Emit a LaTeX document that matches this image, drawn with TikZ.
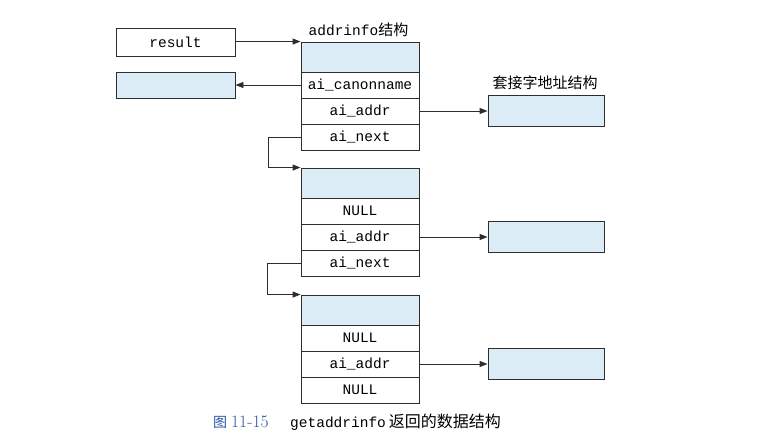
\documentclass[tikz,border=0pt]{standalone}
\usepackage{fontspec}
\setmonofont{Liberation Mono}
\newfontfamily\cjk{Noto Sans CJK SC}
\usetikzlibrary{arrows.meta}
\definecolor{cellblue}{RGB}{220,236,247}
\definecolor{linegray}{RGB}{45,45,45}
\definecolor{capblue}{RGB}{45,85,165}
\begin{document}
\begin{tikzpicture}[x=1pt,y=-1pt,
  cell/.style={draw=linegray,line width=0.9pt,fill=white,minimum width=118pt,inner sep=0pt,
     font=\fontsize{14.5}{16}\ttfamily},
  head/.style={cell,fill=cellblue,minimum height=30pt},
  row/.style={cell,minimum height=26pt},
  bluebox/.style={draw=linegray,line width=0.9pt,fill=cellblue,inner sep=0pt},
  arr/.style={draw=linegray,line width=0.9pt,-{Triangle[length=8pt,width=6pt]}},
  lbl/.style={inner sep=0pt,font=\fontsize{14.5}{16}\ttfamily}]
\useasboundingbox (0,0) rectangle (770,444);

% left boxes
\node[cell,minimum width=119pt,minimum height=28pt] (res) at (175.5,42) {result};
\node[bluebox,minimum width=119pt,minimum height=26pt] (cn) at (175.5,85) {};

% struct 1
\node[lbl] (t1) at (358.5,30) {addrinfo{\cjk\fontsize{15}{16}\selectfont 结构}};
\node[head] (s1h) at (360,57) {};
\node[row] (s1c) at (360,85) {ai\_canonname};
\node[row] (s1a) at (360,111) {ai\_addr};
\node[row] (s1n) at (360,137) {ai\_next};

% struct 2
\node[head] (s2h) at (360,183) {};
\node[row] (s2c) at (360,211) {NULL};
\node[row] (s2a) at (360,237) {ai\_addr};
\node[row] (s2n) at (360,263) {ai\_next};

% struct 3
\node[head] (s3h) at (360,310) {};
\node[row] (s3c) at (360,338) {NULL};
\node[row] (s3a) at (360,364) {ai\_addr};
\node[row] (s3n) at (360,390) {NULL};

% socket address boxes
\node[inner sep=0pt,font=\cjk\fontsize{15}{16}\selectfont] (t2) at (545,83) {套接字地址结构};
\node[bluebox,minimum width=116pt,minimum height=31pt] (sa1) at (546,111) {};
\node[bluebox,minimum width=116pt,minimum height=31pt] (sa2) at (546,237) {};
\node[bluebox,minimum width=116pt,minimum height=31pt] (sa3) at (546,364) {};

% connectors
\draw[arr] (res.east |- s1h.north west) -- (s1h.north west);
\draw[arr] (s1c.west) -- (cn.east);
\draw[arr] (s1a.east) -- (sa1.west);
\draw[arr] (s2a.east) -- (sa2.west);
\draw[arr] (s3a.east) -- (sa3.west);
\draw[arr] (s1n.west) -- ++(-32,0) |- (s2h.north west);
\draw[arr] (s2n.west) -- ++(-33,0) |- (s3h.north west);

% caption
\node[inner sep=0pt,anchor=west,text=capblue] (cap1) at (213,422)
  {{\cjk\fontsize{14}{16}\selectfont 图}\hspace{4pt}{\fontsize{17.5}{18}\selectfont 11-15}};
\node[inner sep=0pt,anchor=west] (cap2) at (290,422)
  {{\fontsize{14.5}{16}\ttfamily getaddrinfo}\hspace{3pt}{\cjk\fontsize{16}{18}\selectfont 返回的数据结构}};
\end{tikzpicture}
\end{document}
